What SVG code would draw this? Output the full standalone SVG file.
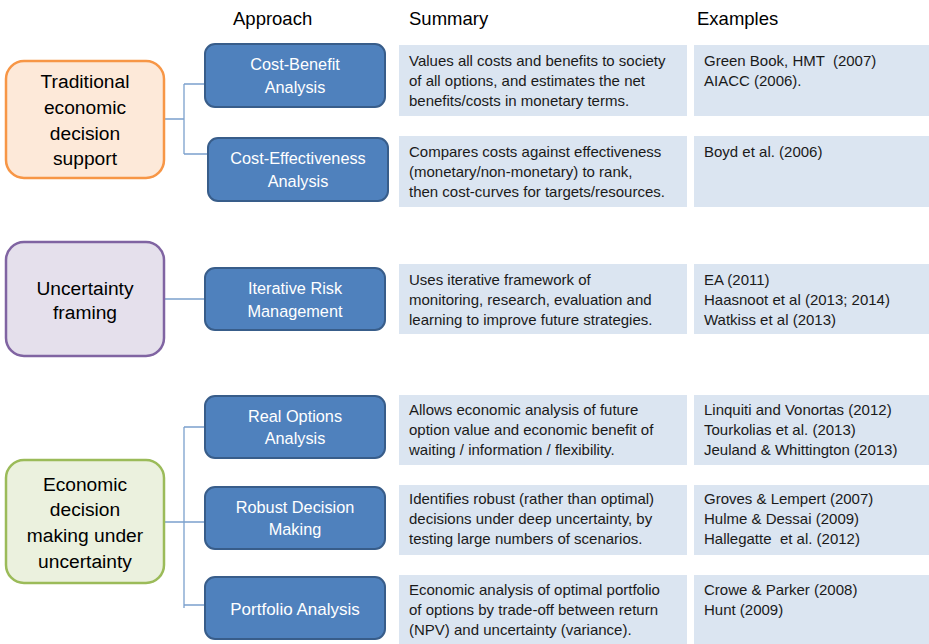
<svg xmlns="http://www.w3.org/2000/svg" width="929" height="644" viewBox="0 0 929 644">
<style>
text{font-family:"Liberation Sans",Arial,sans-serif;white-space:pre}
.hdr{font-size:18.5px;fill:#000}
.cat{font-size:19.2px;fill:#000;text-anchor:middle}
.app rect{fill:#4F81BD;stroke:#385D8A;stroke-width:2}
.app text{font-size:16.3px;fill:#fff;text-anchor:middle}
.cell{fill:#DBE5F1}
.txt{font-size:15px;fill:#1a1a1a}
.conn{stroke:#7BA0CD;stroke-width:1.3;fill:none}
</style>
<rect width="929" height="644" fill="#fff"/>
<g id="headers">
<text class="hdr" x="233" y="25">Approach</text>
<text class="hdr" x="409" y="25">Summary</text>
<text class="hdr" x="697" y="25">Examples</text>
</g>
<g id="connectors">
<path class="conn" d="M165,119H184M184,84V154M184,84H205M184,154H208"/>
<path class="conn" d="M165,299H205"/>
<path class="conn" d="M165,522H205M184,427V608M184,427H205M184,605H205"/>
</g>
<g id="cat-traditional">
<rect x="6" y="61" width="158" height="117" rx="18" fill="#FDE9D9" stroke="#F79646" stroke-width="2.5"/>
<text class="cat" x="85" y="88">Traditional</text>
<text class="cat" x="85" y="114">economic</text>
<text class="cat" x="85" y="140">decision</text>
<text class="cat" x="85" y="165">support</text>
</g>
<g id="cat-uncertainty">
<rect x="6" y="242" width="158" height="114" rx="18" fill="#E5E0EC" stroke="#8064A2" stroke-width="2.5"/>
<text class="cat" x="85" y="295">Uncertainty</text>
<text class="cat" x="85" y="319">framing</text>
</g>
<g id="cat-economic">
<rect x="6" y="460" width="158" height="123" rx="18" fill="#EBF1DE" stroke="#9BBB59" stroke-width="2.5"/>
<text class="cat" x="85" y="491">Economic</text>
<text class="cat" x="85" y="516">decision</text>
<text class="cat" x="85" y="542">making under</text>
<text class="cat" x="85" y="568">uncertainty</text>
</g>
<g id="app-cba" class="app">
<rect x="205" y="44" width="180" height="63" rx="10"/>
<text x="295" y="70">Cost-Benefit</text>
<text x="295" y="93">Analysis</text>
</g>
<g id="app-cea" class="app">
<rect x="208" y="138" width="180" height="63" rx="10"/>
<text x="298" y="164">Cost-Effectiveness</text>
<text x="298" y="187">Analysis</text>
</g>
<g id="app-irm" class="app">
<rect x="205" y="268" width="180" height="62" rx="10"/>
<text x="295" y="294">Iterative Risk</text>
<text x="295" y="317">Management</text>
</g>
<g id="app-roa" class="app">
<rect x="205" y="396" width="180" height="62" rx="10"/>
<text x="295" y="422">Real Options</text>
<text x="295" y="444">Analysis</text>
</g>
<g id="app-rdm" class="app">
<rect x="205" y="487" width="180" height="62" rx="10"/>
<text x="295" y="513">Robust Decision</text>
<text x="295" y="535">Making</text>
</g>
<g id="app-pa" class="app">
<rect x="205" y="577" width="180" height="62" rx="10"/>
<text x="295" y="615" style="font-size:17px">Portfolio Analysis</text>
</g>
<g id="row1">
<rect class="cell" x="399" y="45" width="288" height="71"/>
<rect class="cell" x="694" y="45" width="235" height="71"/>
<text class="txt" x="409" y="66">Values all costs and benefits to society</text>
<text class="txt" x="409" y="86">of all options, and estimates the net</text>
<text class="txt" x="409" y="106">benefits/costs in monetary terms.</text>
<text class="txt" x="704" y="66">Green Book, HMT  (2007)</text>
<text class="txt" x="704" y="86">AIACC (2006).</text>
</g>
<g id="row2">
<rect class="cell" x="399" y="136" width="288" height="71"/>
<rect class="cell" x="694" y="136" width="235" height="71"/>
<text class="txt" x="409" y="157">Compares costs against effectiveness</text>
<text class="txt" x="409" y="177">(monetary/non-monetary) to rank,</text>
<text class="txt" x="409" y="197">then cost-curves for targets/resources.</text>
<text class="txt" x="704" y="157">Boyd et al. (2006)</text>
</g>
<g id="row3">
<rect class="cell" x="399" y="264" width="288" height="70"/>
<rect class="cell" x="694" y="264" width="235" height="70"/>
<text class="txt" x="409" y="285">Uses iterative framework of</text>
<text class="txt" x="409" y="305">monitoring, research, evaluation and</text>
<text class="txt" x="409" y="325">learning to improve future strategies.</text>
<text class="txt" x="704" y="285">EA (2011)</text>
<text class="txt" x="704" y="305">Haasnoot et al (2013; 2014)</text>
<text class="txt" x="704" y="325">Watkiss et al (2013)</text>
</g>
<g id="row4">
<rect class="cell" x="399" y="395" width="288" height="70"/>
<rect class="cell" x="694" y="395" width="235" height="70"/>
<text class="txt" x="409" y="415">Allows economic analysis of future</text>
<text class="txt" x="409" y="435">option value and economic benefit of</text>
<text class="txt" x="409" y="455">waiting / information / flexibility.</text>
<text class="txt" x="704" y="415">Linquiti and Vonortas (2012)</text>
<text class="txt" x="704" y="435">Tourkolias et al. (2013)</text>
<text class="txt" x="704" y="455">Jeuland &amp; Whittington (2013)</text>
</g>
<g id="row5">
<rect class="cell" x="399" y="485" width="288" height="70"/>
<rect class="cell" x="694" y="485" width="235" height="70"/>
<text class="txt" x="409" y="504">Identifies robust (rather than optimal)</text>
<text class="txt" x="409" y="524">decisions under deep uncertainty, by</text>
<text class="txt" x="409" y="544">testing large numbers of scenarios.</text>
<text class="txt" x="704" y="504">Groves &amp; Lempert (2007)</text>
<text class="txt" x="704" y="524">Hulme &amp; Dessai (2009)</text>
<text class="txt" x="704" y="544">Hallegatte  et al. (2012)</text>
</g>
<g id="row6">
<rect class="cell" x="399" y="575" width="288" height="69"/>
<rect class="cell" x="694" y="575" width="235" height="69"/>
<text class="txt" x="409" y="595">Economic analysis of optimal portfolio</text>
<text class="txt" x="409" y="615">of options by trade-off between return</text>
<text class="txt" x="409" y="635">(NPV) and uncertainty (variance).</text>
<text class="txt" x="704" y="595">Crowe &amp; Parker (2008)</text>
<text class="txt" x="704" y="615">Hunt (2009)</text>
</g>
</svg>
